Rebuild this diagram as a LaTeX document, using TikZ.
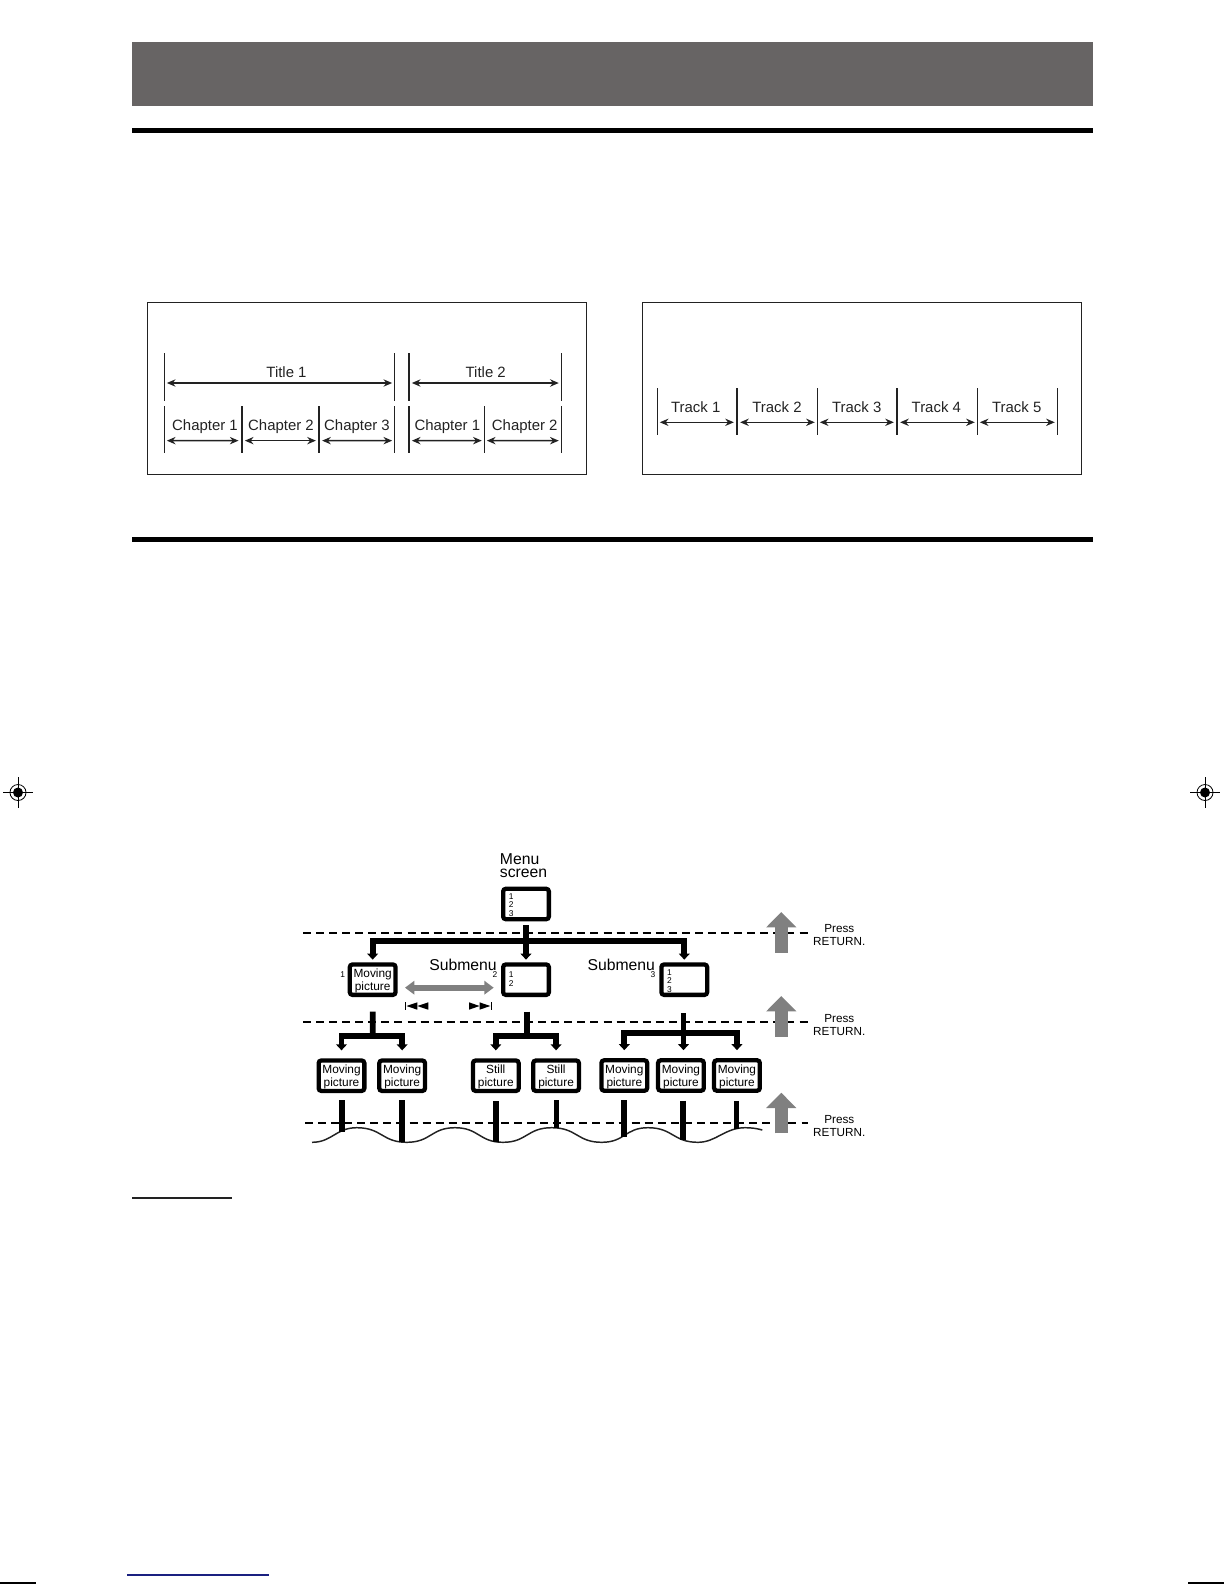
\documentclass[tikz,border=0pt]{standalone}
\usepackage{xcolor}
\usepackage{fontspec}
\setmainfont{Liberation Sans}
\usetikzlibrary{arrows.meta, positioning}
\definecolor{headgray}{RGB}{103, 100, 100}
\definecolor{arrowgray}{RGB}{128, 128, 128}
\definecolor{inkgray}{RGB}{34, 34, 34}
\definecolor{printblue}{RGB}{26, 32, 128}

\begin{document}
\begin{tikzpicture}[
    x=0.75pt, y=-0.75pt,
    framebox/.style={draw=inkgray, line width=1pt},
    thintick/.style={fill=inkgray, inner sep=0pt, outer sep=0pt, minimum width=0.8pt},
    thicktick/.style={thintick, minimum width=1.7pt},
    titleh/.style={minimum height=35.5pt},
    chaph/.style={minimum height=35pt},
    trackh/.style={minimum height=35pt},
    spanarrow/.style={{Stealth[length=6.5pt, width=5.5pt]}-{Stealth[length=6.5pt, width=5.5pt]}, line width=1.1pt, inkgray, shorten <=1.5pt, shorten >=1.5pt},
    trackarrow/.style={spanarrow, line width=0.8pt},
    spanlabel/.style={font=\fontsize{11.2}{12}\selectfont, text=inkgray, inner sep=0pt, anchor=center},
    screenbox/.style={draw=black, fill=white, line width=3.2pt, rounded corners=2pt, minimum width=34.3pt, minimum height=22.8pt, inner sep=0pt, align=center, font=\fontsize{8.9}{9.7}\selectfont, text depth=-2.5pt},
    digits/.style={font=\fontsize{6.3}{6.5}\selectfont, inner sep=0pt, align=left, anchor=west},
    bigword/.style={font=\fontsize{11.8}{9.8}\selectfont, inner sep=0pt},
    guide/.style={line width=1pt, dash pattern=on 6pt off 3.8pt},
    treeline/.style={line width=4.3pt},
    treearrow/.style={treeline, -{Triangle[length=4.5pt, width=8pt]}, shorten >=2pt},
    leafarrow/.style={treearrow, shorten >=6pt},
    uparrow/.style={arrowgray, line width=10pt, -{Triangle[length=11.5pt, width=22pt]}},
    presslabel/.style={font=\fontsize{8.8}{9.6}\selectfont, align=center, inner sep=0pt}
]
    \useasboundingbox (0,0) rectangle (1224,1584);

    % Header band and section rules
    \fill[headgray] (132,42) rectangle (1093,106);
    \fill[black] (132,128) rectangle (1093,133);
    \fill[black] (132,537) rectangle (1093,542);

    % Title and chapter frame
    \draw[framebox] (147.3,302.7) rectangle (586.7,474.3);
    \node[thintick, titleh] (titlea) at (164.3,377) {};
    \node[thintick, titleh] (titleb) at (394.7,377) {};
    \node[thicktick, titleh] (titlec) at (408.7,377) {};
    \node[thintick, titleh] (titled) at (561.3,377) {};
    \node[thintick, chaph, below=4pt of titlea] (chapa) {};
    \node[thicktick, chaph] (chapb) at (241.7,429.3) {};
    \node[thicktick, chaph] (chapc) at (319,429.3) {};
    \node[thintick, chaph, below=4pt of titleb] (chapd) {};
    \node[thicktick, chaph, below=4pt of titlec] (chape) {};
    \node[thintick, chaph] (chapf) at (484.3,429.3) {};
    \node[thintick, chaph, below=4pt of titled] (chapg) {};

    \draw[spanarrow] ([yshift=-4.5pt]titlea.east) -- ([yshift=-4.5pt]titleb.west);
    \draw[spanarrow] ([yshift=-4.5pt]titlec.east) -- ([yshift=-4.5pt]titled.west);
    \draw[spanarrow] ([yshift=-8.5pt]chapa.east) -- ([yshift=-8.5pt]chapb.west);
    \draw[spanarrow] ([yshift=-8.5pt]chapb.east) -- ([yshift=-8.5pt]chapc.west);
    \draw[spanarrow] ([yshift=-8.5pt]chapc.east) -- ([yshift=-8.5pt]chapd.west);
    \draw[spanarrow] ([yshift=-8.5pt]chape.east) -- ([yshift=-8.5pt]chapf.west);
    \draw[spanarrow] ([yshift=-8.5pt]chapf.east) -- ([yshift=-8.5pt]chapg.west);

    \node[spanlabel] (titlelabela) at (286.5,372) {Title 1};
    \node[spanlabel] (titlelabelb) at (485.7,372) {Title 2};
    \node[spanlabel] (chaplabela) at (205,427) {Chapter 1};
    \node[spanlabel] (chaplabelb) at (281,427) {Chapter 2};
    \node[spanlabel] (chaplabelc) at (357,427) {Chapter 3};
    \node[spanlabel] (chaplabeld) at (447.3,427) {Chapter 1};
    \node[spanlabel] (chaplabele) at (524.7,427) {Chapter 2};

    % Track frame
    \draw[framebox] (642.3,302.7) rectangle (1081.7,474.3);
    \node[thintick, trackh] (tracka) at (657.3,411.3) {};
    \node[thicktick, trackh] (trackb) at (737,411.3) {};
    \node[thintick, trackh] (trackc) at (817.3,411.3) {};
    \node[thicktick, trackh] (trackd) at (897,411.3) {};
    \node[thintick, trackh] (tracke) at (977.3,411.3) {};
    \node[thintick, trackh] (trackf) at (1057.3,411.3) {};

    \draw[trackarrow] ([yshift=-8.25pt]tracka.east) -- ([yshift=-8.25pt]trackb.west);
    \draw[trackarrow] ([yshift=-8.25pt]trackb.east) -- ([yshift=-8.25pt]trackc.west);
    \draw[trackarrow] ([yshift=-8.25pt]trackc.east) -- ([yshift=-8.25pt]trackd.west);
    \draw[trackarrow] ([yshift=-8.25pt]trackd.east) -- ([yshift=-8.25pt]tracke.west);
    \draw[trackarrow] ([yshift=-8.25pt]tracke.east) -- ([yshift=-8.25pt]trackf.west);

    \node[spanlabel] (tracklabela) at (695.7,406.7) {Track 1};
    \node[spanlabel] (tracklabelb) at (777,406.7) {Track 2};
    \node[spanlabel] (tracklabelc) at (856.7,406.7) {Track 3};
    \node[spanlabel] (tracklabeld) at (936.3,406.7) {Track 4};
    \node[spanlabel] (tracklabele) at (1016.7,406.7) {Track 5};

    % Dashed levels
    \coordinate (guideal) at (303,933);
    \coordinate (guidear) at (808,933);
    \coordinate (guidebl) at (303,1022);
    \coordinate (guidebr) at (808,1022);
    \coordinate (guidecl) at (305,1123);
    \coordinate (guidecr) at (808,1123);
    \draw[guide] (guideal) -- (guidear);
    \draw[guide] (guidebl) -- (guidebr);
    \draw[guide] (guidecl) -- (guidecr);

    % Screens - top and middle row
    \node[screenbox] (menu) at (526,904) {};
    \node[screenbox, below=30.75pt of menu] (subtwo) {};
    \node[screenbox, left=77.5pt of subtwo] (subone) {Moving\\picture};
    \node[screenbox, right=81.2pt of subtwo] (subthree) {};

    \node[digits] (menudigits) at (508.5,905) {1\\2\\3};
    \node[digits] (subtwodigits) at (508.5,979) {1\\2};
    \node[digits] (subthreedigits) at (666.8,981) {1\\2\\3};

    \node[bigword, anchor=west, align=left] (menulabel) at (499.7,865.5) {Menu\\screen};
    \node[bigword] (subtwolabel) at (463,965) {Submenu};
    \node[bigword] (subthreelabel) at (621.3,965) {Submenu};
    \node[digits] (oneindex) at (340,975) {1};
    \node[digits] (twoindex) at (492.3,975) {2};
    \node[digits] (threeindex) at (650.3,975) {3};

    % Screens - bottom row
    \node[screenbox] (leafa) at (341.5,1075.7) {Moving\\picture};
    \node[screenbox, right=8pt of leafa] (leafb) {Moving\\picture};
    \node[screenbox] (leafc) at (495.8,1075.7) {Still\\picture};
    \node[screenbox, right=7.7pt of leafc] (leafd) {Still\\picture};
    \node[screenbox] (leafe) at (624.3,1075.5) {Moving\\picture};
    \node[screenbox, right=5pt of leafe] (leaff) {Moving\\picture};
    \node[screenbox, right=4.5pt of leaff] (leafg) {Moving\\picture};

    % Tree
    \coordinate (busa) at (526,941);
    \coordinate (busb) at (372.7,1036);
    \coordinate (busc) at (527,1036);
    \coordinate (busd) at (683.5,1033);
    \draw[treeline, shorten <=3pt] (menu.south) -- (busa);
    \draw[treearrow] (busa) -- (subtwo.north);
    \draw[treearrow] (busa) -| (subone.north);
    \draw[treearrow] (busa) -| (subthree.north);

    \draw[treeline, shorten <=11pt] (subone.south) -- (busb);
    \draw[leafarrow] (busb) -| (leafa.north);
    \draw[leafarrow] (busb) -| (leafb.north);
    \draw[treeline, shorten <=11pt] (subtwo.south -| busc) -- (busc);
    \draw[leafarrow] (busc) -| (leafc.north);
    \draw[leafarrow] (busc) -| (leafd.north);
    \draw[treeline, shorten <=12pt] (subthree.south -| busd) -- (busd);
    \draw[leafarrow] (busd) -| (leafe.north);
    \draw[leafarrow] (busd) -- (busd |- leaff.north);
    \draw[leafarrow] (busd) -| (leafg.north);

    % Wave and what runs into it
    \draw[inkgray, line width=1.1pt] (312,1142.3) .. controls (332,1142.3) and (336,1127.7) .. (356.7,1127.7)
        .. controls (382,1127.7) and (382,1142.3) .. (406.7,1142.3)
        .. controls (431,1142.3) and (431,1127.7) .. (455,1127.7)
        .. controls (479,1127.7) and (479,1142.3) .. (503,1142.3)
        .. controls (527,1142.3) and (527,1127.7) .. (551.7,1127.7)
        .. controls (577,1127.7) and (577,1142.3) .. (601.7,1142.3)
        .. controls (625,1142.3) and (625,1127.7) .. (648,1127.7)
        .. controls (673,1127.7) and (673,1142.3) .. (698,1142.3)
        .. controls (716,1142.3) and (725,1127.7) .. (745,1127.7)
        .. controls (752,1127.7) and (757,1128.5) .. (762.3,1130);
    \coordinate (wavea) at (341.7,1131.7);
    \coordinate (waveb) at (402.3,1141.7);
    \coordinate (wavec) at (496,1141.7);
    \coordinate (waved) at (556.3,1127.5);
    \coordinate (wavee) at (624,1136.7);
    \coordinate (wavef) at (683,1140);
    \coordinate (waveg) at (736.7,1129.3);
    \draw[treeline, shorten <=5.5pt] (wavea |- leafa.south) -- (wavea);
    \draw[treeline, shorten <=5.5pt] (waveb |- leafb.south) -- (waveb);
    \draw[treeline, shorten <=6pt] (wavec |- leafc.south) -- (wavec);
    \draw[treeline, line width=3.6pt, shorten <=5.5pt] (waved |- leafd.south) -- (waved);
    \draw[treeline, shorten <=5.5pt] (wavee |- leafe.south) -- (wavee);
    \draw[treeline, shorten <=6pt] (wavef |- leaff.south) -- (wavef);
    \draw[treeline, line width=3.6pt, shorten <=6pt] (waveg |- leafg.south) -- (waveg);

    % Skip arrow and its icons
    \draw[arrowgray, line width=4.5pt, {Triangle[length=7pt, width=10pt]}-{Triangle[length=7pt, width=10pt]}, shorten <=5.5pt, shorten >=5.5pt] ([yshift=-6pt]subone.east) -- ([yshift=-6pt]subtwo.west);
    \fill[black] (405,1002.3) rectangle (406,1009.7);
    \fill[black] (406.5,1006) -- (417.3,1002.3) -- (417.3,1009.7) -- cycle;
    \fill[black] (417.3,1006) -- (428.3,1002.3) -- (428.3,1009.7) -- cycle;
    \fill[black] (490.7,1002.3) rectangle (491.7,1009.7);
    \fill[black] (490.3,1006) -- (479.5,1002.3) -- (479.5,1009.7) -- cycle;
    \fill[black] (479.5,1006) -- (469,1002.3) -- (469,1009.7) -- cycle;

    % Press RETURN
    \coordinate (upbasea) at (781.3,952.7);
    \coordinate (uptipa) at (781.3,912);
    \coordinate (upbaseb) at (781.3,1036.7);
    \coordinate (uptipb) at (781.3,996);
    \coordinate (upbasec) at (781.3,1133.3);
    \coordinate (uptipc) at (781.3,1092.7);
    \draw[uparrow] (upbasea) -- (uptipa);
    \draw[uparrow] (upbaseb) -- (uptipb);
    \draw[uparrow] (upbasec) -- (uptipc);
    \node[presslabel] (pressa) at (839.3,935.2) {Press\\RETURN.};
    \node[presslabel] (pressb) at (839.3,1025) {Press\\RETURN.};
    \node[presslabel] (pressc) at (839.3,1125.7) {Press\\RETURN.};

    % Printer's marks
    \fill[inkgray] (132,1196.5) rectangle (232,1198.5);
    \fill[printblue] (127,1574.4) rectangle (269,1575.7);
    \fill[black] (0,1582.3) rectangle (36,1583.5);
    \fill[black] (1188,1582.3) rectangle (1224,1583.5);
    \draw[black, line width=0.5pt] (3,792.5) -- (33,792.5) (18,777) -- (18,808);
    \draw[black, line width=0.6pt] (18,792.5) circle (8);
    \fill[black] (18,792.5) circle (5);
    \draw[black, line width=0.5pt] (1190,792.5) -- (1220,792.5) (1205,777) -- (1205,808);
    \draw[black, line width=0.6pt] (1205,792.5) circle (8);
    \fill[black] (1205,792.5) circle (5);
\end{tikzpicture}
\end{document}
